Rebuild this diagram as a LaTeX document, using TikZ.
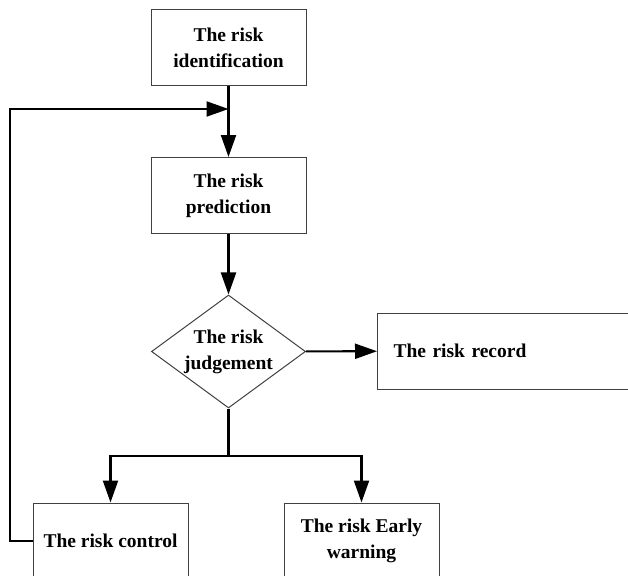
\documentclass[tikz,border=0pt]{standalone}
\usepackage{fontspec}
\setmainfont{Liberation Serif}
\usetikzlibrary{shapes.geometric,arrows.meta}
\begin{document}
\begin{tikzpicture}[x=1pt,y=-1pt,
  txt/.style={font=\fontsize{19.5}{26}\selectfont\bfseries},
  box/.style={txt, draw=black!75, line width=1pt, minimum width=155pt, minimum height=76pt, inner sep=0pt, align=center},
  dia/.style={txt, draw=black!75, line width=1pt, diamond, aspect=1.36, minimum width=154pt, minimum height=113pt, inner sep=0pt, align=center},
  link/.style={line width=2.1pt},
  flow/.style={link, -{Triangle[length=22pt,width=15pt]}}
]
\path[use as bounding box, clip] (0,0) rectangle (628,575);

\node[box] (ident) at (228.5,48) {The risk\\identification};
\node[box] (pred) at (228.5,195.5) {The risk\\prediction};
\node[dia] (judge) at (228.5,351.5) {The risk\\judgement};
\node[box, anchor=west, minimum width=260pt, text width=228pt, align=left] (record) at (377,351) {The risk record};
\node[box] (control) at (110.5,541) {The risk control};
\node[box] (warn) at (361.5,541) {The risk Early\\warning};

\coordinate (m) at (228.5,109);
\coordinate (loopc) at (10,109);
\coordinate (j) at (228.5,456);

\draw[flow] (ident) -- (pred);
\draw[flow] (pred) -- (judge);
\draw[flow] (judge) -- (record);
\draw[link] (judge.south) -- (j);
\draw[flow] (j) -| (control.north);
\draw[flow] (j) -| (warn.north);
\draw[flow] (control.west) -| (loopc) -- (m);
\end{tikzpicture}
\end{document}
